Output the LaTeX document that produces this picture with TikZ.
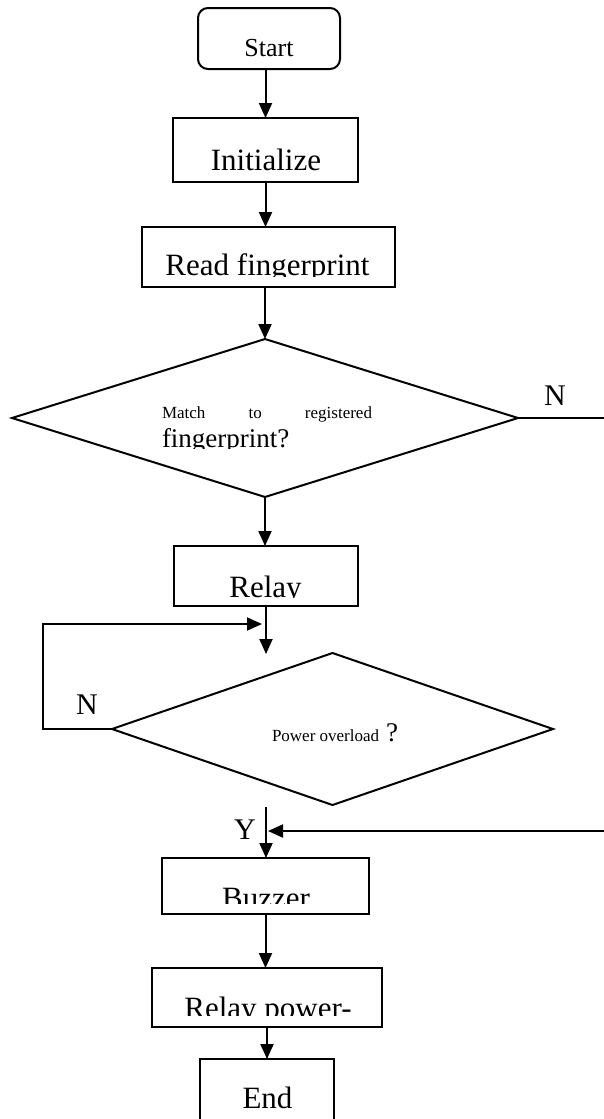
\documentclass[tikz,border=0pt]{standalone}
\usepackage{fontspec}
\setmainfont{Liberation Serif}
\usetikzlibrary{arrows.meta,shapes.geometric}
\begin{document}
\begin{tikzpicture}[x=1pt,y=-1pt,
  line width=2pt,
  box/.style={draw, rectangle, inner sep=0pt, outer sep=0pt},
  dec/.style={draw, diamond, inner sep=0pt, outer sep=0pt},
  arr/.style={-{Triangle[length=15pt,width=13pt]}},
  big/.style={font=\fontsize{31}{31}\selectfont, inner sep=0pt, anchor=base},
  mid/.style={font=\fontsize{26}{26}\selectfont, inner sep=0pt, anchor=base},
  small/.style={font=\fontsize{17}{17}\selectfont, inner sep=0pt},
  lab/.style={font=\fontsize{30}{30}\selectfont, inner sep=0pt},
]
\useasboundingbox (0,0) rectangle (604,1119);

% boxes
\node[box, rounded corners=10pt, minimum width=142pt, minimum height=61pt] (start) at (269,38.5) {};
\node[box, minimum width=185pt, minimum height=64pt] (init) at (265.5,150) {};
\node[box, minimum width=253pt, minimum height=60pt] (read) at (268.5,257) {};
\node[dec, minimum width=506pt, minimum height=158pt] (dec1) at (265,418) {};
\node[box, minimum width=184pt, minimum height=60pt] (relay) at (266,576) {};
\node[dec, minimum width=441pt, minimum height=152pt] (dec2) at (332.5,729) {};
\node[box, minimum width=207pt, minimum height=56pt] (buzzer) at (265.5,886) {};
\node[box, minimum width=230pt, minimum height=59pt] (rp) at (267,997.5) {};
\node[box, minimum width=134pt, minimum height=71pt] (endb) at (267,1094.5) {};

% texts
\node[mid] (startT) at (269,56) {Start};
\node[big] (initT) at (266,170) {Initialize};
\begin{scope}
  \clip (142,227) rectangle (395,276);
  \node[big] (readT) at (267.5,275.5) {Read fingerprint};
\end{scope}
\node[small, anchor=base west] (m1) at (161,418) {\makebox[210pt][s]{Match\hfill to\hfill registered}};
\begin{scope}
  \clip (150,400) rectangle (400,448);
  \node[font=\fontsize{27}{27}\selectfont, inner sep=0pt, anchor=base west] (m2) at (161,447) {fingerprint?};
\end{scope}
\begin{scope}
  \clip (174,546) rectangle (358,597.5);
  \node[big] (relayT) at (265.5,597) {Relay};
\end{scope}
\node[small, anchor=base west] (p1) at (271,741) {Power overload};
\node[font=\fontsize{27}{27}\selectfont, inner sep=0pt, anchor=base west] (p2) at (385,741) {?};
\begin{scope}
  \clip (162,858) rectangle (369,903);
  \node[big] (buzT) at (266,908) {Buzzer};
\end{scope}
\begin{scope}
  \clip (152,968) rectangle (382,1015);
  \node[big] (rpT) at (268,1018.5) {Relay power-};
\end{scope}
\node[big] (endT) at (267.5,1108) {End};

% labels
\node[lab] (n1) at (555,396) {N};
\node[lab] (n2) at (87,705) {N};
\node[lab] (y1) at (245,830) {Y};

% free ends
\coordinate (d2in) at (266,654);
\coordinate (loopend) at (262,624);
\coordinate (yfrom) at (266,807);
\coordinate (rin) at (604,831);
\coordinate (rend) at (268,831);
\coordinate (nout) at (604,418);

% connectors
\draw[arr] (init.north |- start.south) -- (init.north);
\draw[arr] (init.south) -- (init.south |- read.north);
\draw[arr] (dec1.north |- read.south) -- (dec1.north);
\draw[arr] (dec1.south) -- (dec1.south |- relay.north);
\draw[arr] (relay.south) -- (relay.south |- d2in);
\draw[arr] (dec2.west) -- ++(-69,0) |- (loopend);
\draw (dec1.east) -- (nout);
\draw[arr] (rin) -- (rend);
\draw[arr] (yfrom) -- (yfrom |- buzzer.north);
\draw[arr] (buzzer.south) -- (buzzer.south |- rp.north);
\draw[arr] (rp.south) -- (rp.south |- endb.north);
\end{tikzpicture}
\end{document}
